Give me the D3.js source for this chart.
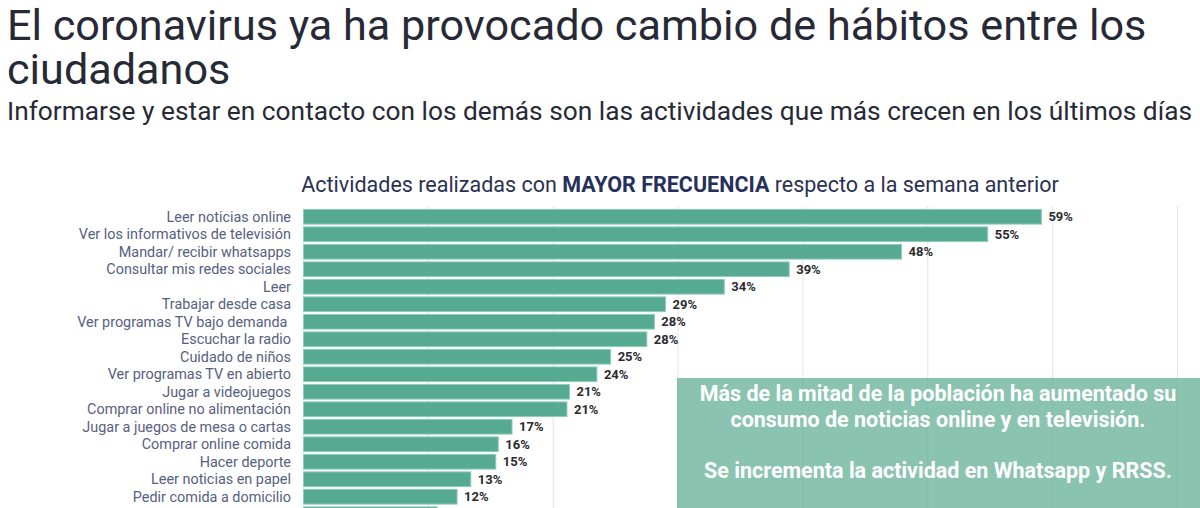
<!DOCTYPE html>
<html>
<head>
<meta charset="utf-8">
<script src="https://cdn.jsdelivr.net/npm/d3@7"></script>
<style>
  body { margin: 0; background: #fff; }
  text { font-family: Roboto, "Noto Sans", sans-serif; }
</style>
</head>
<body>
<div id="chart"></div>
<script>
const categories = [
  "Leer noticias online",
  "Ver los informativos de televisión",
  "Mandar/ recibir whatsapps",
  "Consultar mis redes sociales",
  "Leer",
  "Trabajar desde casa",
  "Ver programas TV bajo demanda ",
  "Escuchar la radio",
  "Cuidado de niños",
  "Ver programas TV en abierto",
  "Jugar a videojuegos",
  "Comprar online no alimentación",
  "Jugar a juegos de mesa o cartas",
  "Comprar online comida",
  "Hacer deporte",
  "Leer noticias en papel",
  "Pedir comida a domicilio",
  "Otras actividades"
];
// bar lengths (labels show them rounded)
const values = [59.1, 54.8, 47.9, 38.9, 33.7, 29.0, 28.1, 27.5, 24.6, 23.5, 21.3, 21.1, 16.7, 15.6, 15.4, 13.4, 12.3, 10.7];
const gridTicks = [0, 10, 20, 30, 40, 50, 60, 70];

const titleLines = ["El coronavirus ya ha provocado cambio de hábitos entre los", "ciudadanos"];
const subtitle = "Informarse y estar en contacto con los demás son las actividades que más crecen en los últimos días";
const noteLines = [
  "Más de la mitad de la población ha aumentado su",
  "consumo de noticias online y en televisión.",
  "",
  "Se incrementa la actividad en Whatsapp y RRSS."
];

const width = 1200, height = 508;
const margin = { top: 208, left: 303.5 };

const svg = d3.select("#chart").append("svg")
  .attr("width", width)
  .attr("height", height);

// Titles
svg.append("text")
  .attr("font-size", "43.2px")
  .attr("fill", "#272a36")
  .selectAll("tspan")
  .data(titleLines)
  .join("tspan")
  .attr("x", 7)
  .attr("y", (d, i) => 40 + i * 44)
  .text(d => d);

svg.append("text")
  .attr("x", 7)
  .attr("y", 120)
  .attr("font-size", "26.3px")
  .attr("fill", "#272a36")
  .text(subtitle);

const chartTitle = svg.append("text")
  .attr("x", 680)
  .attr("y", 192)
  .attr("text-anchor", "middle")
  .attr("font-size", "21.5px")
  .attr("fill", "#2b3152");
chartTitle.append("tspan").text("Actividades realizadas con ");
chartTitle.append("tspan").attr("font-weight", "bold").attr("fill", "#26305a").text("MAYOR FRECUENCIA");
chartTitle.append("tspan").text(" respecto a la semana anterior");

// Scales
const x = d3.scaleLinear().domain([0, 70]).range([margin.left, margin.left + 874]);
const y = d3.scaleBand()
  .domain(categories)
  .range([margin.top, margin.top + categories.length * 17.5])
  .paddingInner(0.16)
  .paddingOuter(0.08);

// Gridlines
svg.append("g").selectAll("line")
  .data(gridTicks.slice(1))
  .join("line")
  .attr("x1", d => x(d))
  .attr("x2", d => x(d))
  .attr("y1", margin.top - 2)
  .attr("y2", height)
  .attr("stroke", "#e2e2ee")
  .attr("stroke-width", 1);

// Bars
const rows = categories.map((c, i) => ({ name: c, value: values[i] }));
// the last row runs past the bottom edge; only its bar top shows
const labelled = rows.filter(d => y(d.name) + y.bandwidth() < height);

svg.append("g").selectAll("rect")
  .data(rows)
  .join("rect")
  .attr("x", x(0))
  .attr("y", d => y(d.name))
  .attr("width", d => x(d.value) - x(0))
  .attr("height", y.bandwidth())
  .attr("fill", "#55aa91")
  .attr("stroke", "#8fcdb9")
  .attr("stroke-width", 1);

// Category labels
svg.append("g").selectAll("text")
  .data(labelled)
  .join("text")
  .attr("x", 291)
  .attr("y", d => y(d.name) + y.bandwidth() / 2)
  .attr("dy", "0.35em")
  .attr("text-anchor", "end")
  .attr("font-size", "14.4px")
  .attr("fill", "#57607f")
  .attr("xml:space", "preserve")
  .text(d => d.name);

// Value labels
svg.append("g").selectAll("text")
  .data(labelled)
  .join("text")
  .attr("x", d => x(d.value) + 7)
  .attr("y", d => y(d.name) + y.bandwidth() / 2)
  .attr("dy", "0.35em")
  .attr("font-size", "13px")
  .attr("font-weight", "bold")
  .attr("fill", "#2b2b30")
  .text(d => Math.round(d.value) + "%");

// Annotation box
svg.append("rect")
  .attr("x", 677)
  .attr("y", 378)
  .attr("width", width - 677)
  .attr("height", height - 378)
  .attr("fill", "#5aaa90")
  .attr("fill-opacity", 0.7);

svg.append("g").selectAll("text")
  .data(noteLines)
  .join("text")
  .attr("x", 938)
  .attr("y", (d, i) => 401 + i * 25.5)
  .attr("text-anchor", "middle")
  .attr("font-size", "21.5px")
  .attr("font-weight", "bold")
  .attr("fill", "#ffffff")
  .text(d => d);
</script>
</body>
</html>
